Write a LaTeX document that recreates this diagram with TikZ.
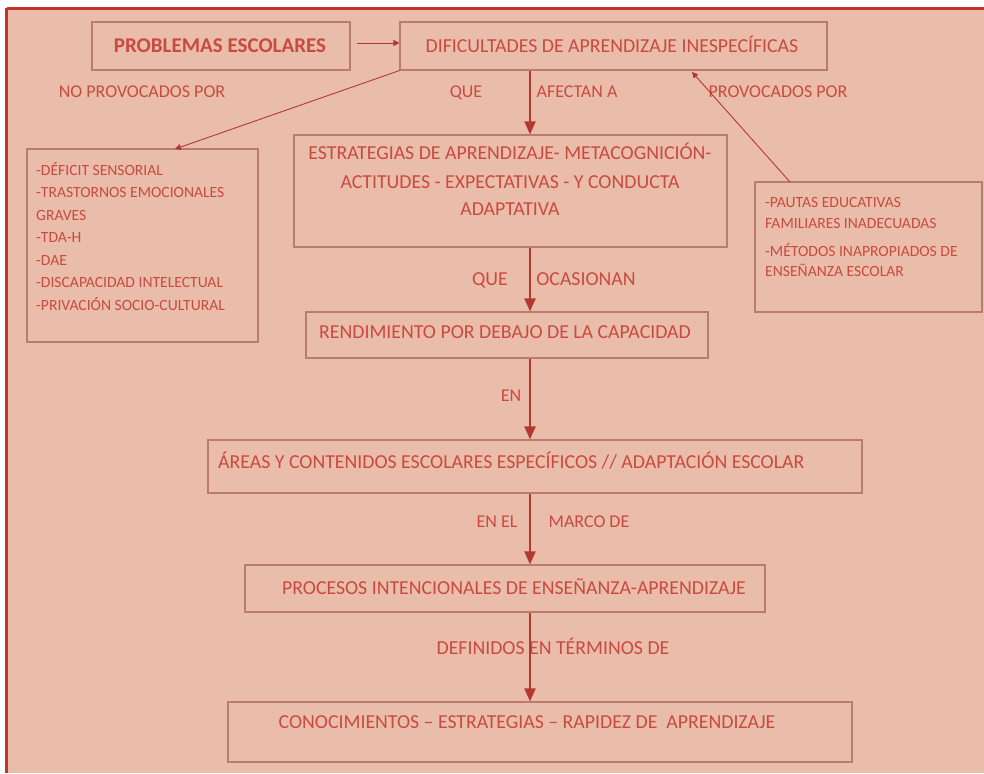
\documentclass[tikz,border=0pt]{standalone}
\usepackage{fontspec}
\setmainfont{Carlito}
\usetikzlibrary{arrows.meta}
\definecolor{bg}{HTML}{EABDAA}
\definecolor{frame}{HTML}{C0342B}
\definecolor{txt}{HTML}{C94A40}
\definecolor{boxc}{HTML}{B97C6E}
\definecolor{arr}{HTML}{B2392F}
\tikzset{
  box/.style={draw=boxc, line width=1.1pt, rectangle, inner sep=0pt},
  tx/.style={text=txt, inner sep=0pt, anchor=base, font=\fontsize{19.8}{22}\selectfont},
  lab/.style={tx, font=\fontsize{18}{20}\selectfont},
  sm/.style={text=txt, inner sep=0pt, anchor=base west, font=\fontsize{15.6}{17}\selectfont},
  mainarrow/.style={draw=arr, line width=2pt, -{Triangle[length=13pt,width=11pt]}},
  thinarrow/.style={draw=arr, line width=0.9pt, -{Triangle[length=6pt,width=6pt]}}
}
\begin{document}
\begin{tikzpicture}[x=1pt,y=-1pt]
\useasboundingbox (0,0) rectangle (984,773);
\fill[white] (0,0) rectangle (984,773);
\fill[bg] (6,8) rectangle (984,773);
\draw[frame, line width=3pt] (6.5,8.5) -- (984,8.5);
\draw[frame, line width=3pt] (6.5,8.5) -- (6.5,773);

% boxes
\node[box, minimum width=258pt, minimum height=48pt] (prob) at (221,46) {};
\node[box, minimum width=427pt, minimum height=48pt] (dif) at (613.5,46) {};
\node[box, minimum width=231pt, minimum height=193pt] (left) at (142.5,245.5) {};
\node[box, minimum width=433pt, minimum height=112pt] (estr) at (510.5,191) {};
\node[box, minimum width=227pt, minimum height=130pt] (right) at (868.5,247) {};
\node[box, minimum width=402pt, minimum height=46pt] (rend) at (507,335) {};
\node[box, minimum width=654pt, minimum height=53pt] (areas) at (535,466.5) {};
\node[box, minimum width=520pt, minimum height=47pt] (proc) at (505,588.5) {};
\node[box, minimum width=624pt, minimum height=60pt] (conoc) at (540,732) {};

% texts
\node[tx, font=\fontsize{21}{24}\selectfont\bfseries] (probT) at (220,53) {PROBLEMAS ESCOLARES};
\node[tx] (difT) at (612,53) {DIFICULTADES DE APRENDIZAJE INESPECÍFICAS};
\node[tx] (estrT1) at (510,159) {ESTRATEGIAS DE APRENDIZAJE- METACOGNICIÓN-};
\node[tx] (estrT2) at (510,188) {ACTITUDES - EXPECTATIVAS - Y CONDUCTA};
\node[tx] (estrT3) at (510,215) {ADAPTATIVA};
\node[tx] (rendT) at (505,338) {RENDIMIENTO POR DEBAJO DE LA CAPACIDAD};
\node[tx, anchor=base west] (areasT) at (218,468) {ÁREAS Y CONTENIDOS ESCOLARES ESPECÍFICOS // ADAPTACIÓN ESCOLAR};
\node[tx] (procT) at (514,594) {PROCESOS INTENCIONALES DE ENSEÑANZA-APRENDIZAJE};
\node[tx] (conocT) at (527,728) {CONOCIMIENTOS -- ESTRATEGIAS -- RAPIDEZ DE \ APRENDIZAJE};

% left list
\foreach \t [count=\i] in {-DÉFICIT SENSORIAL, -TRASTORNOS EMOCIONALES, GRAVES, -TDA-H, -DAE, -DISCAPACIDAD INTELECTUAL, -PRIVACIÓN SOCIO-CULTURAL}
  \node[sm] (L\i) at (36,{175+(\i-1)*22.5}) {\t};

% right list
\node[sm] (R1) at (765,207) {-PAUTAS EDUCATIVAS};
\node[sm] (R2) at (765,228) {FAMILIARES INADECUADAS};
\node[sm] (R3) at (765,256) {-MÉTODOS INAPROPIADOS DE};
\node[sm] (R4) at (765,276) {ENSEÑANZA ESCOLAR};

% labels
\node[lab] (noprov) at (142,98) {NO PROVOCADOS POR};
\node[lab] (que1) at (466,98) {QUE};
\node[lab] (afectan) at (577,98) {AFECTAN A};
\node[lab] (prov) at (778,98) {PROVOCADOS POR};
\node[tx] (que2) at (490,285) {QUE};
\node[tx] (ocas) at (586,285) {OCASIONAN};
\node[lab] (en) at (511,401) {EN};
\node[lab] (enel) at (497,527) {EN EL};
\node[lab] (marco) at (589,527) {MARCO DE};
\node[tx] (defin) at (553,654) {DEFINIDOS EN TÉRMINOS DE};

% arrows
\coordinate (ax) at (530,0);
\draw[mainarrow] (dif.south -| ax) -- (estr.north -| ax);
\draw[mainarrow] (estr.south -| ax) -- (rend.north -| ax);
\draw[mainarrow] (rend.south -| ax) -- (areas.north -| ax);
\draw[mainarrow] (areas.south -| ax) -- (proc.north -| ax);
\draw[mainarrow] (proc.south -| ax) -- (conoc.north -| ax);

\coordinate (p1) at (357,43);
\draw[thinarrow] (p1) -- (p1 -| dif.west);
\coordinate (lt) at (175,149);
\draw[thinarrow] (dif.south west) -- (lt);
\coordinate (rt) at (790,182);
\coordinate (dt) at (692,72);
\draw[thinarrow] (rt) -- (dt);
\end{tikzpicture}
\end{document}
